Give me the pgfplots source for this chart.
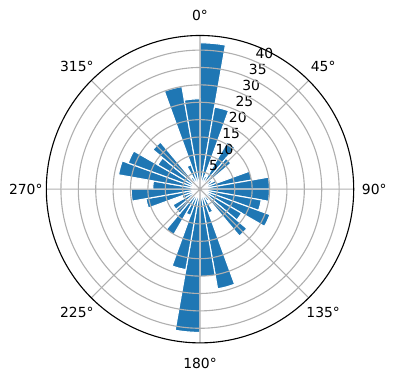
\documentclass[border=0pt]{standalone}
\usepackage{fontspec}
\setmainfont{DejaVu Sans}
\usepackage{pgfplots}
\pgfplotsset{compat=1.18}
\usepackage{pgfplotstable}
\usepgfplotslibrary{polar}
\definecolor{barblue}{HTML}{1F77B4}
\definecolor{gridgray}{HTML}{B0B0B0}

% a = compass start angle of the 10-degree bin (clockwise from north), r = bar length
\pgfplotstableread{
a r
0 42.1
10 24.0
20 4.0
30 15.6
40 11.6
50 4.0
60 5.0
70 15.2
80 20.0
90 20.0
100 17.9
110 21.4
120 13.8
130 17.6
140 4.0
150 7.3
160 29.1
170 25.2
180 41.2
190 23.5
200 8.0
210 15.2
220 9.0
230 9.0
240 5.5
250 15.8
260 19.8
270 13.6
280 23.8
290 22.0
300 14.0
310 17.7
320 4.0
330 7.5
340 30.0
350 26.0
}\windtable

\begin{document}
\fontsize{10}{12}\selectfont
\begin{tikzpicture}
\begin{polaraxis}[
  scale only axis, width=221.3pt, height=221.3pt,
  xmin=0, xmax=360, ymin=0, ymax=44.2,
  clip=false,
  xtick={0,45,...,315},
  xticklabels={},
  ytick={5,10,...,40},
  yticklabels={},
  grid=major,
  major grid style={gridgray, line width=0.8pt},
  axis line style={black, line width=0.8pt},
  y axis line style={draw=none},
  major tick length=0pt,
  axis on top,
]
\coordinate (c) at (axis cs:0,0);
\pgfplotstablegetrowsof{\windtable}
\pgfmathtruncatemacro\N{\pgfplotsretval-1}
\pgfplotsforeachungrouped \i in {0,...,\N}{%
  \pgfplotstablegetelem{\i}{a}\of\windtable \let\A\pgfplotsretval
  \pgfplotstablegetelem{\i}{r}\of\windtable \let\R\pgfplotsretval
  \pgfmathparse{(80-\A)<0?360:0}\let\off\pgfmathresult
  \pgfmathsetmacro\tsa{90-\A+\off}
  \pgfmathsetmacro\tsb{87.5-\A+\off}
  \pgfmathsetmacro\tsc{85-\A+\off}
  \pgfmathsetmacro\tsd{82.5-\A+\off}
  \pgfmathsetmacro\tse{80-\A+\off}
  \edef\tmp{\noexpand\addplot[fill=barblue, draw=white, line width=0.8pt] coordinates {(\tsa,0) (\tsa,\R) (\tsb,\R) (\tsc,\R) (\tsd,\R) (\tse,\R) (\tse,0)} -- cycle;}%
  \tmp
}
\pgfplotsinvokeforeach{5,10,...,40}{%
  \node[anchor=south west, inner sep=1.5pt, font=\fontsize{10}{12}\selectfont] at (axis cs:67.5,#1) {#1};
}
\node[anchor=center, inner sep=0pt] at (axis cs:90,50.1) {0°};
\node[anchor=center, inner sep=0pt] at (axis cs:45,50.1) {45°};
\node[anchor=center, inner sep=0pt] at (axis cs:0,50.1) {90°};
\node[anchor=center, inner sep=0pt] at (axis cs:315,50.1) {135°};
\node[anchor=center, inner sep=0pt] at (axis cs:270,50.1) {180°};
\node[anchor=center, inner sep=0pt] at (axis cs:225,50.1) {225°};
\node[anchor=center, inner sep=0pt] at (axis cs:180,50.1) {270°};
\node[anchor=center, inner sep=0pt] at (axis cs:135,50.1) {315°};
\end{polaraxis}
\pgfresetboundingbox
\path ([shift={(-144pt,136.2pt)}]c) rectangle ([shift={(141.1pt,-137.4pt)}]c);
\end{tikzpicture}
\end{document}
